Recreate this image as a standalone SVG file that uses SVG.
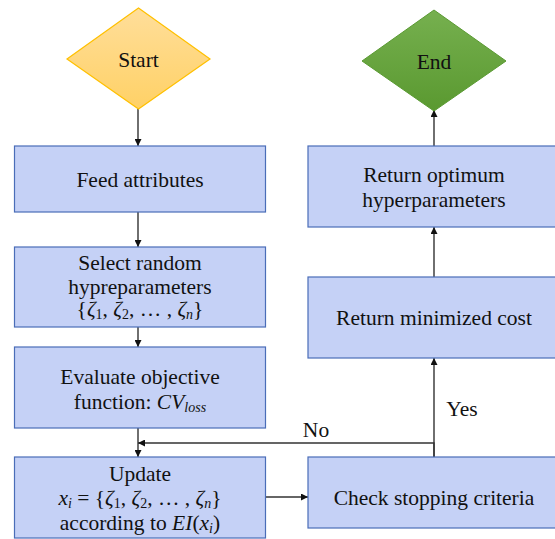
<svg xmlns="http://www.w3.org/2000/svg" width="555" height="539" viewBox="0 0 555 539">
<defs>
<linearGradient id="gStart" x1="0" y1="0" x2="0" y2="1">
<stop offset="0" stop-color="#FFDE9A"/>
<stop offset="1" stop-color="#FFD166"/>
</linearGradient>
<linearGradient id="gEnd" x1="0" y1="0" x2="0" y2="1">
<stop offset="0" stop-color="#76B04F"/>
<stop offset="1" stop-color="#5A9930"/>
</linearGradient>
<marker id="arr" viewBox="0 0 10 10" refX="10" refY="5" markerWidth="7" markerHeight="7" markerUnits="userSpaceOnUse" orient="auto">
<path d="M0,0 L10,5 L0,10 z" fill="#111"/>
</marker>
<style>
.box{fill:#C5D1F6;stroke:#4A6DB8;stroke-width:1.2}
.t{font-size:21.5px;fill:#111;text-anchor:middle}
.it{font-style:italic}
.sub{font-size:14px}
.con{fill:none;stroke:#333;stroke-width:1.4}
.arr{marker-end:url(#arr)}
</style>
</defs>
<g font-family="'Liberation Serif', 'Times New Roman', 'DejaVu Serif', serif">
<g id="connectors">
<line class="con arr" x1="138" y1="109" x2="138" y2="146"/>
<line class="con arr" x1="138" y1="212" x2="138" y2="247"/>
<line class="con arr" x1="138" y1="327" x2="138" y2="347"/>
<line class="con arr" x1="138" y1="428" x2="138" y2="457"/>
<polyline class="con arr" points="434,457 434,443 138,443"/>
<line class="con arr" x1="266" y1="497" x2="308" y2="497"/>
<line class="con arr" x1="434" y1="457" x2="434" y2="358"/>
<line class="con arr" x1="434" y1="277" x2="434" y2="227"/>
<line class="con arr" x1="434" y1="146" x2="434" y2="110"/>
<text class="t" x="316" y="437">No</text>
<text class="t" x="462" y="416">Yes</text>
</g>
<g id="start">
<polygon points="138.5,8 210,59 138.5,109 67,59" fill="url(#gStart)" stroke="#FFC000" stroke-width="1.2"/>
<text class="t" x="138.5" y="67">Start</text>
</g>
<g id="end">
<polygon points="434,10 506,61 434,111 362,61" fill="url(#gEnd)" stroke="#5A9A32" stroke-width="1"/>
<text class="t" x="434" y="69">End</text>
</g>
<g id="feed">
<rect class="box" x="14.5" y="146" width="251" height="66"/>
<text class="t" x="140" y="187">Feed attributes</text>
</g>
<g id="select">
<rect class="box" x="14.5" y="247" width="251" height="80"/>
<text class="t" x="140" y="270">Select random</text>
<text class="t" x="140" y="294">hypreparameters</text>
<text class="t" x="140" y="316">{<tspan class="it">ζ</tspan><tspan class="sub" dy="3">1</tspan><tspan dy="-3">, </tspan><tspan class="it">ζ</tspan><tspan class="sub" dy="3">2</tspan><tspan dy="-3">, … , </tspan><tspan class="it">ζ</tspan><tspan class="sub it" dy="3">n</tspan><tspan dy="-3">}</tspan></text>
</g>
<g id="evaluate">
<rect class="box" x="14.5" y="347" width="251" height="81"/>
<text class="t" x="140" y="384">Evaluate objective</text>
<text class="t" x="140" y="409">function: <tspan class="it">CV</tspan><tspan class="sub it" dy="3">loss</tspan></text>
</g>
<g id="update">
<rect class="box" x="14.5" y="457" width="251" height="81"/>
<text class="t" x="140" y="481">Update</text>
<text class="t" x="140" y="505"><tspan class="it">x</tspan><tspan class="sub it" dy="3">i</tspan><tspan dy="-3"> = {</tspan><tspan class="it">ζ</tspan><tspan class="sub" dy="3">1</tspan><tspan dy="-3">, </tspan><tspan class="it">ζ</tspan><tspan class="sub" dy="3">2</tspan><tspan dy="-3">, … , </tspan><tspan class="it">ζ</tspan><tspan class="sub it" dy="3">n</tspan><tspan dy="-3">}</tspan></text>
<text class="t" x="140" y="530">according to <tspan class="it">EI</tspan>(<tspan class="it">x</tspan><tspan class="sub it" dy="3">i</tspan><tspan dy="-3">)</tspan></text>
</g>
<g id="check">
<rect class="box" x="308" y="457" width="252" height="71"/>
<text class="t" x="434" y="505">Check stopping criteria</text>
</g>
<g id="minimized">
<rect class="box" x="308" y="277" width="252" height="81"/>
<text class="t" x="434" y="325">Return minimized cost</text>
</g>
<g id="optimum">
<rect class="box" x="308" y="146" width="252" height="81"/>
<text class="t" x="434" y="182">Return optimum</text>
<text class="t" x="434" y="207">hyperparameters</text>
</g>
</g>
</svg>
